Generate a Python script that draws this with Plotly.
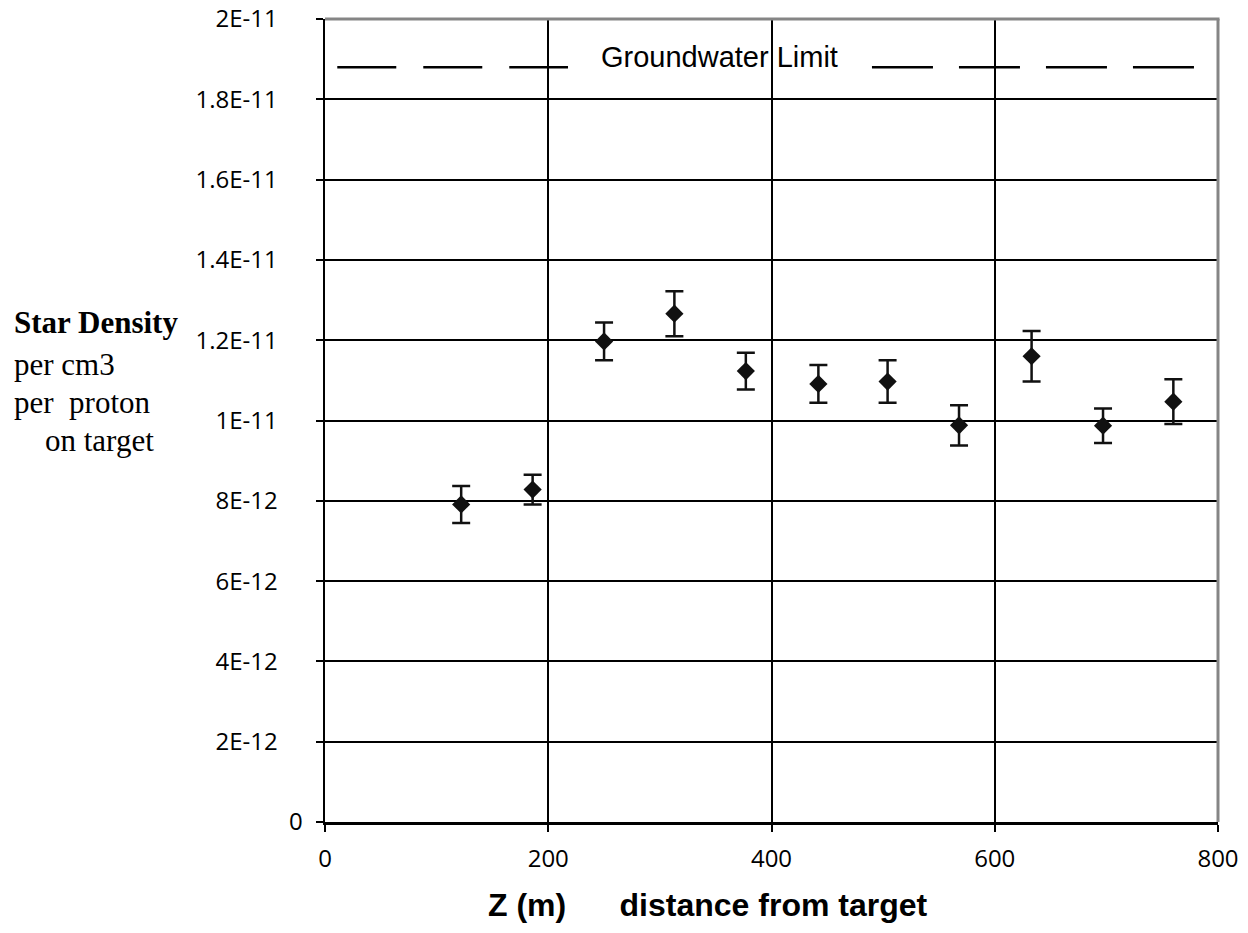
import plotly.graph_objects as go

# ---- data ----
z_m = [122, 186, 250, 313, 377, 442, 504, 568, 633, 697, 760]
star_density = [7.91e-12, 8.28e-12, 11.97e-12, 12.66e-12, 11.23e-12, 10.91e-12,
                10.97e-12, 9.88e-12, 11.60e-12, 9.87e-12, 10.47e-12]
star_err = [0.46e-12, 0.37e-12, 0.47e-12, 0.56e-12, 0.46e-12, 0.47e-12,
            0.53e-12, 0.50e-12, 0.63e-12, 0.43e-12, 0.56e-12]

groundwater_limit = 1.88e-11
gw_left_x = [11, 217.7]
gw_right_x = [490, 778.5]

y_tickvals = [0, 2e-12, 4e-12, 6e-12, 8e-12, 1e-11, 1.2e-11, 1.4e-11, 1.6e-11, 1.8e-11, 2e-11]
y_ticklabels = ["0", "2E-12", "4E-12", "6E-12", "8E-12", "1E-11", "1.2E-11",
                "1.4E-11", "1.6E-11", "1.8E-11", "2E-11"]
x_tickvals = [0, 200, 400, 600, 800]
x_ticklabels = ["0", "200", "400", "600", "800"]

NB = "\u00a0"
y_ticktext = [t if t == "0" else t + NB * 4 for t in y_ticklabels]

fig = go.Figure()

# groundwater limit dashed line (two segments, gap for the label)
fig.add_trace(go.Scatter(
    x=gw_left_x, y=[groundwater_limit] * 2, mode="lines",
    line=dict(color="black", width=2.6, dash="59px,27px"),
    hoverinfo="skip", showlegend=False))
fig.add_trace(go.Scatter(
    x=gw_right_x, y=[groundwater_limit] * 2, mode="lines",
    line=dict(color="black", width=2.6, dash="61px,26px"),
    hoverinfo="skip", showlegend=False))

fig.add_trace(go.Scatter(
    x=z_m, y=star_density, mode="markers",
    marker=dict(symbol="diamond", size=14, color="#111111"),
    error_y=dict(type="data", array=star_err, visible=True,
                 color="#111111", thickness=2.5, width=9),
    showlegend=False))

fig.update_layout(
    width=1248, height=933,
    margin=dict(l=325, r=30, t=19, b=111),
    paper_bgcolor="white", plot_bgcolor="white",
    showlegend=False,
    xaxis=dict(
        range=[0, 800], tickmode="array", tickvals=x_tickvals, ticktext=x_ticklabels,
        showgrid=True, gridcolor="black", gridwidth=2,
        showline=True, linecolor="black", linewidth=2.5,
        ticks="outside", ticklen=7, tickwidth=2, tickcolor="black",
        ticklabelstandoff=7, automargin=False, ticklabeloverflow="allow",
        tickfont=dict(family="Open Sans", size=24, color="black"),
        zeroline=False, fixedrange=True,
    ),
    yaxis=dict(
        range=[0, 2e-11], tickmode="array", tickvals=y_tickvals, ticktext=y_ticktext,
        showgrid=True, gridcolor="black", gridwidth=2,
        showline=True, linecolor="black", linewidth=2.5,
        ticks="outside", ticklen=7, tickwidth=2, tickcolor="black",
        ticklabelstandoff=8, automargin=False, ticklabeloverflow="allow",
        tickfont=dict(family="Open Sans", size=24, color="black"),
        zeroline=False, fixedrange=True,
    ),
    shapes=[
        dict(type="line", xref="paper", yref="paper", x0=0, x1=1.0017, y0=1, y1=1,
             line=dict(color="#858585", width=3), layer="above"),
        dict(type="line", xref="paper", yref="paper", x0=1, x1=1, y0=0, y1=1,
             line=dict(color="#858585", width=3), layer="above"),
    ],
)

# Groundwater Limit label
fig.add_annotation(
    x=(719 - 325) / 893, y=(822 - 57) / 803, xref="paper", yref="paper",
    text="Groundwater" + NB + "Limit", showarrow=False,
    font=dict(family="Liberation Sans", size=29, color="black"),
    xanchor="center", yanchor="middle")

# X axis title
fig.add_annotation(
    x=(708 - 325) / 893, y=(822 - 905) / 803, xref="paper", yref="paper",
    text="<b>Z (m)" + NB * 6 + "distance from target</b>", showarrow=False,
    font=dict(family="Liberation Sans", size=32, color="black"),
    xanchor="center", yanchor="middle")

# Y axis title block (serif, left)
y_title_lines = ["<b>Star Density</b>", "per cm3", "per" + NB * 2 + "proton", NB * 4 + "on target"]
y_title_baselines_px = [334, 376, 414, 452]
for line, bpx in zip(y_title_lines, y_title_baselines_px):
    fig.add_annotation(
        x=(12 - 325) / 893, y=(822 - bpx) / 803, xref="paper", yref="paper",
        text=line, showarrow=False, align="left",
        font=dict(family="Liberation Serif", size=31, color="black"),
        xanchor="left", yanchor="bottom", yshift=-8)

fig.write_html(
    "out.html",
    config={"displayModeBar": False, "staticPlot": True},
    post_script="document.body.style.margin='0px';document.body.style.overflow='hidden';",
)
